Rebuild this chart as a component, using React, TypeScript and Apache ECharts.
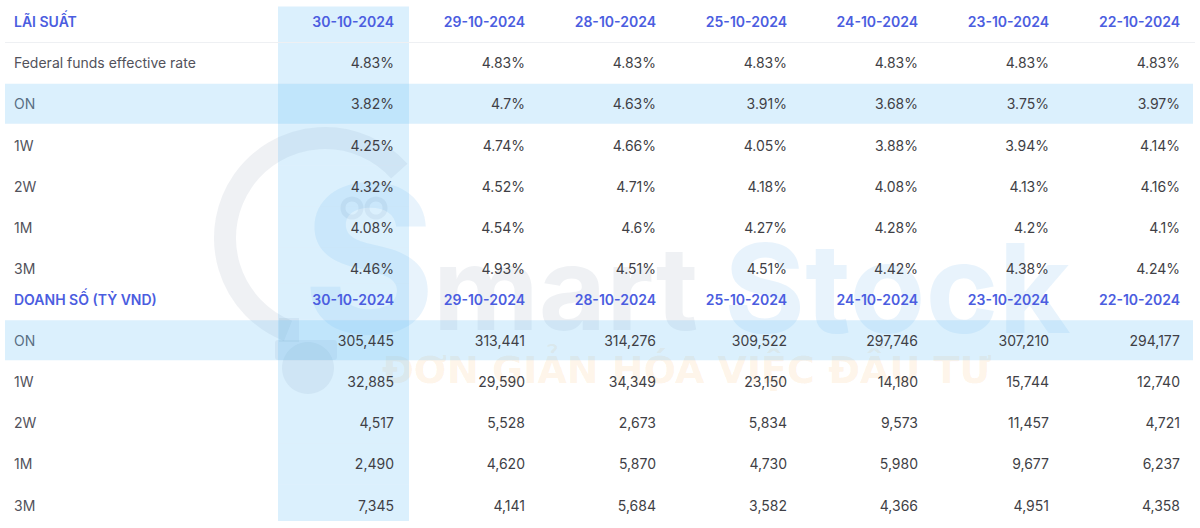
import React, { useEffect, useRef } from 'react';
import * as echarts from 'echarts';

// ---------- data ----------
const dates = ['30-10-2024', '29-10-2024', '28-10-2024', '25-10-2024', '24-10-2024', '23-10-2024', '22-10-2024'];

const rateTitle = 'LÃI SUẤT';
const rateRows = ['Federal funds effective rate', 'ON', '1W', '2W', '1M', '3M'];
const rateFed = [4.83, 4.83, 4.83, 4.83, 4.83, 4.83, 4.83];
const rateON = [3.82, 4.7, 4.63, 3.91, 3.68, 3.75, 3.97];
const rate1W = [4.25, 4.74, 4.66, 4.05, 3.88, 3.94, 4.14];
const rate2W = [4.32, 4.52, 4.71, 4.18, 4.08, 4.13, 4.16];
const rate1M = [4.08, 4.54, 4.6, 4.27, 4.28, 4.2, 4.1];
const rate3M = [4.46, 4.93, 4.51, 4.51, 4.42, 4.38, 4.24];

const volumeTitle = 'DOANH SỐ (TỶ VND)';
const volumeRows = ['ON', '1W', '2W', '1M', '3M'];
const volON = [305445, 313441, 314276, 309522, 297746, 307210, 294177];
const vol1W = [32885, 29590, 34349, 23150, 14180, 15744, 12740];
const vol2W = [4517, 5528, 2673, 5834, 9573, 11457, 4721];
const vol1M = [2490, 4620, 5870, 4730, 5980, 9677, 6237];
const vol3M = [7345, 4141, 5684, 3582, 4366, 4951, 4358];

const highlightRowName = 'ON';
const highlightColIndex = 0;

// ---------- styles ----------
const FONT = 'Inter';
const BLUE = '#4b5de0';
const TEXT = '#3f3f46';
const LABEL = '#52525b';
const BAND = 'rgba(111,195,247,0.25)';
const TABLE_LEFT = 5;
const HALF_GAP = 15.3;

type Cell = { col: number; row: number; text: string; header: boolean };

function buildCells(values: number[][], fmt: (v: number) => string): Cell[] {
  const cells: Cell[] = [];
  dates.forEach((d, c) => cells.push({ col: c, row: 0, text: d, header: true }));
  values.forEach((arr, r) => arr.forEach((v, c) => cells.push({ col: c, row: r + 1, text: fmt(v), header: false })));
  return cells;
}

const fmtPct = (v: number) => `${v}%`;
const fmtNum = (v: number) => v.toLocaleString('en-US');

export default function App() {
  const ref = useRef<HTMLDivElement>(null);

  useEffect(() => {
    document.body.style.margin = '0';
    if (!ref.current) return;
    const chart = echarts.init(ref.current, undefined, { renderer: 'svg' });

    const tables = [
      { rows: [rateTitle, ...rateRows], cells: buildCells([rateFed, rateON, rate1W, rate2W, rate1M, rate3M], fmtPct) },
      { rows: [volumeTitle, ...volumeRows], cells: buildCells([volON, vol1W, vol2W, vol1M, vol3M], fmtNum) },
    ];

    const series: any[] = [];
    tables.forEach((t, gi) => {
      const nRows = t.rows.length;
      // column highlight
      series.push({
        type: 'custom',
        xAxisIndex: gi,
        yAxisIndex: gi,
        silent: true,
        z: 1,
        data: t.rows.map((_, r) => [highlightColIndex, r]),
        renderItem: (params: any, api: any) => {
          const r = api.value(1);
          const p = api.coord([api.value(0), r]);
          const s = api.size([1, 1]);
          let top = p[1] - s[1] / 2;
          let bottom = p[1] + s[1] / 2;
          if (r === 0) top = gi === 0 ? p[1] - 15 : p[1] - HALF_GAP;
          if (r === nRows - 1) bottom = gi === 0 ? p[1] + HALF_GAP : p[1] + 16;
          return {
            type: 'rect',
            shape: { x: p[0] - s[0] / 2, y: top, width: s[0], height: bottom - top },
            style: { fill: BAND },
          };
        },
      });
      // row highlight
      const hr = t.rows.indexOf(highlightRowName);
      series.push({
        type: 'custom',
        xAxisIndex: gi,
        yAxisIndex: gi,
        silent: true,
        z: 1,
        data: [[dates.length - 1, hr]],
        renderItem: (params: any, api: any) => {
          const p = api.coord([api.value(0), api.value(1)]);
          const s = api.size([1, 1]);
          const right = p[0] + s[0] / 2 - 2;
          return {
            type: 'rect',
            shape: { x: TABLE_LEFT, y: p[1] - 20, width: right - TABLE_LEFT, height: 40 },
            style: { fill: BAND },
          };
        },
      });
      // header separator
      if (gi === 0) {
        series.push({
          type: 'custom',
          xAxisIndex: gi,
          yAxisIndex: gi,
          silent: true,
          z: 1,
          data: [[dates.length - 1, 0]],
          renderItem: (params: any, api: any) => {
            const p = api.coord([api.value(0), api.value(1)]);
            const s = api.size([1, 1]);
            const y = Math.round(p[1] + s[1] / 2) + 0.5;
            return {
              type: 'line',
              shape: { x1: TABLE_LEFT, y1: y, x2: p[0] + s[0] / 2, y2: y },
              style: { stroke: '#eef0f3', lineWidth: 1 },
            };
          },
        });
      }
      // texts
      series.push({
        type: 'custom',
        xAxisIndex: gi,
        yAxisIndex: gi,
        silent: true,
        z: 3,
        data: t.cells.map((c) => [c.col, c.row]),
        renderItem: (params: any, api: any) => {
          const cell = t.cells[params.dataIndex];
          const p = api.coord([api.value(0), api.value(1)]);
          const s = api.size([1, 1]);
          return {
            type: 'text',
            style: {
              text: cell.text,
              x: p[0] + s[0] / 2 - 15,
              y: p[1],
              align: 'right',
              verticalAlign: 'middle',
              fill: cell.header ? BLUE : TEXT,
              fontSize: 14,
              fontFamily: FONT,
              fontWeight: cell.header ? 600 : 400,
            },
          };
        },
      });
    });

    const grids = [
      { left: 278, right: 5, top: 1, height: 288 },
      { left: 278, right: 5, top: 278.4, height: 247.2 },
    ];

    const wmGray = 'rgba(40,70,110,0.075)';
    const wmBlue = 'rgba(80,160,235,0.13)';
    const wmOrange = 'rgba(245,150,40,0.11)';

    chart.setOption({
      animation: false,
      grid: grids,
      xAxis: grids.map((_, i) => ({ type: 'category', gridIndex: i, data: dates, show: false })),
      yAxis: tables.map((t, i) => ({
        type: 'category',
        gridIndex: i,
        inverse: true,
        data: t.rows,
        axisLine: { show: false },
        axisTick: { show: false },
        splitLine: { show: false },
        axisLabel: {
          margin: 264,
          align: 'left',
          formatter: (v: string, idx: number) => (idx === 0 ? `{h|${v}}` : `{b|${v}}`),
          rich: {
            h: { color: BLUE, fontSize: 14, fontWeight: 600, fontFamily: FONT },
            b: { color: LABEL, fontSize: 14, fontWeight: 400, fontFamily: FONT },
          },
        },
      })),
      graphic: [
        {
          type: 'group',
          silent: true,
          z: 0,
          children: [
            {
              type: 'arc',
              shape: { cx: 325, cy: 238, r: 100, startAngle: 1.95, endAngle: 5.55 },
              style: { stroke: wmGray, lineWidth: 22, fill: 'none' },
            },
            { type: 'rect', shape: { x: 279, y: 318, width: 20, height: 24 }, style: { fill: wmGray } },
            { type: 'rect', shape: { x: 275, y: 340, width: 62, height: 20, r: 3 }, style: { fill: wmGray } },
            { type: 'circle', shape: { cx: 308, cy: 368, r: 26 }, style: { fill: wmGray } },
            {
              type: 'text',
              style: { text: 'S', x: 302, y: 258, verticalAlign: 'middle', fill: wmBlue, fontSize: 205, fontWeight: 700, fontFamily: FONT },
            },
            { type: 'circle', shape: { cx: 352, cy: 208, r: 9 }, style: { fill: 'none', stroke: wmGray, lineWidth: 5 } },
            { type: 'circle', shape: { cx: 376, cy: 208, r: 9 }, style: { fill: 'none', stroke: wmGray, lineWidth: 5 } },
            {
              type: 'text',
              style: { text: 'mart', x: 433, y: 288, verticalAlign: 'middle', fill: wmGray, fontSize: 116, fontWeight: 700, fontFamily: FONT },
            },
            {
              type: 'text',
              style: { text: 'Stock', x: 724, y: 288, verticalAlign: 'middle', fill: wmBlue, fontSize: 124, fontWeight: 700, fontFamily: FONT },
            },
            {
              type: 'text',
              style: { text: 'ĐƠN GIẢN HÓA VIỆC ĐẦU TƯ', x: 382, y: 370, verticalAlign: 'middle', fill: wmOrange, fontSize: 38, fontWeight: 700, fontFamily: 'DejaVu Sans' },
            },
          ],
        },
      ],
      series,
    });

    return () => chart.dispose();
  }, []);

  return <div ref={ref} style={{ width: 1200, height: 528 }} />;
}
